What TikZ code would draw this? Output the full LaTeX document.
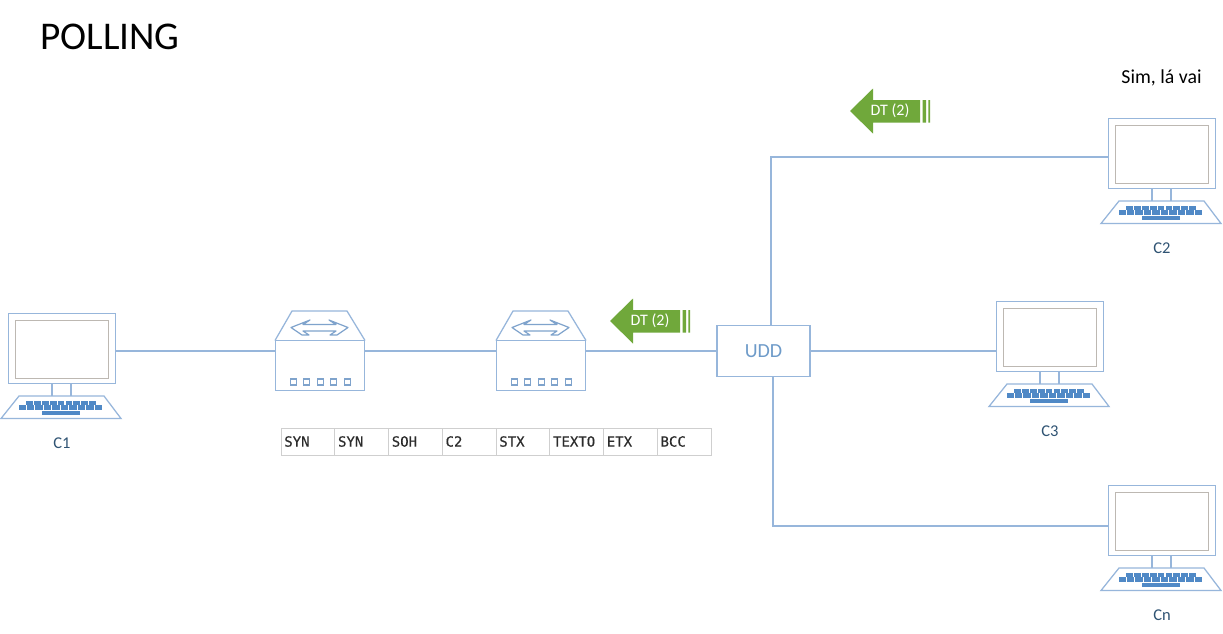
\documentclass[tikz,border=0pt]{standalone}
\usepackage{fontspec}
\setmainfont{Carlito}
\newfontfamily\monofam[FakeBold=0.4]{DejaVu Sans Mono}
\definecolor{netline}{HTML}{97B6DB}
\definecolor{keyblue}{HTML}{5089C6}
\definecolor{screenline}{HTML}{BDB8B2}
\definecolor{labelblue}{HTML}{2F5373}
\definecolor{uddblue}{HTML}{6E9BC9}
\definecolor{arrowgreen}{HTML}{70A83B}
\definecolor{cellline}{HTML}{CFCFCF}
\definecolor{celltext}{HTML}{2B2B2B}
\definecolor{swaparrow}{HTML}{7FA3CC}
\tikzset{
  wire/.style={draw=netline,line width=1.25pt},
  monitorbox/.style={draw=netline,line width=1.25pt,fill=white,minimum width=107pt,minimum height=70pt,inner sep=0pt},
  screenbox/.style={draw=screenline,line width=1.1pt,fill=white,minimum width=93pt,minimum height=58pt,inner sep=0pt},
  routerbody/.style={draw=netline,line width=1.25pt,fill=white,minimum width=89.5pt,minimum height=49.5pt,inner sep=0pt},
  pclabel/.style={text=labelblue,font=\fontsize{16.5}{18}\selectfont,inner sep=0pt},
  dtlabel/.style={text=white,font=\fontsize{16}{18}\selectfont,inner sep=0pt},
  cellbox/.style={draw=cellline,line width=0.8pt,minimum width=53.75pt,minimum height=27pt,inner sep=0pt,text=celltext,
     font=\monofam\fontsize{14}{16}\selectfont,text width=47pt,align=left},
}
\newcommand{\pcicon}[5]{% name, dx, dy, label name, label
  \begin{scope}[shift={(#2,#3)}]
    \node[monitorbox] (#1) at (62,348.5) {};
    \node[screenbox] (#1s) at (62,349.5) {};
    \draw[wire] (52,384) -- (52,396) (71,384) -- (71,396);
    \draw[wire] (19,396) -- (104,396) -- (121,418.5) -- (1,418.5) -- cycle;
    \foreach \i in {0,...,8} {\fill[keyblue] (26+\i*7.9,400.6) rectangle +(6.8,4);}
    \foreach \i in {0,...,9} {\fill[keyblue] (18.5+\i*8.45,405.4) rectangle +(7.4,4.2);}
    \fill[keyblue] (42,411.2) rectangle (80,415);
    \node[pclabel] (#4) at (62,443.2) {#5};
  \end{scope}
}
\newcommand{\routericon}[2]{% name, dx
  \begin{scope}[shift={(#2,0)}]
    \node[routerbody] (#1) at (320,365.5) {};
    \draw[wire] (275,340.5) -- (292,311) -- (347,311) -- (365,340.5);
    \draw[draw=swaparrow,line width=1.2pt,line join=round] (291,327.5) -- (310,320) -- (303,324.5) -- (336,324.5) -- (329,320) -- (348,327.5)
       -- (337,335) -- (330,335) -- (336,331) -- (303,331) -- (309,335) -- (302,335) -- cycle;
    \foreach \i in {0,...,4} {\draw[draw=swaparrow,line width=1.1pt] (290.5+\i*13.4,379) rectangle +(6,6);}
  \end{scope}
}
\newcommand{\dtarrow}[3]{% name, dx, dy
  \begin{scope}[shift={(#2,#3)}]
    \fill[arrowgreen] (610,321) -- (633,298.5) -- (633,310) -- (680,310) -- (680,332.5) -- (633,332.5) -- (633,343.5) -- cycle;
    \fill[arrowgreen] (682.5,310) rectangle (686,332.5) (688.3,310) rectangle (690,332.5);
    \node[dtlabel] (#1) at (650,321) {DT (2)};
  \end{scope}
}
\begin{document}
\begin{tikzpicture}[x=1pt,y=-1pt]
\useasboundingbox (0,0) rectangle (1223,633);
\fill[white] (0,0) rectangle (1223,633);
\coordinate (bus) at (0,351);
\coordinate (upx) at (771,157);
\coordinate (downx) at (773,526);

\node[inner sep=0pt,anchor=base west,font=\fontsize{39.3}{42}\selectfont] (title) at (40,49.5) {POLLING};
\node[inner sep=0pt,font=\fontsize{19.8}{22}\selectfont] (sim) at (1161.5,78) {Sim, lá vai};

\pcicon{pca}{0}{0}{la}{C1}
\pcicon{pcb}{1100}{-195}{lb}{C2}
\pcicon{pcc}{988}{-12}{lc}{C3}
\pcicon{pcn}{1100}{172}{ln}{Cn}

\routericon{ra}{0}
\routericon{rb}{221}

\node[draw=netline,line width=1.25pt,minimum width=93pt,minimum height=51.5pt,inner sep=0pt,text=uddblue,font=\fontsize{20}{22}\selectfont] (udd) at (763.5,351) {UDD};

\draw[wire] (pca.east |- bus) -- (ra.west |- bus);
\draw[wire] (ra.east |- bus) -- (rb.west |- bus);
\draw[wire] (rb.east |- bus) -- (udd.west);
\draw[wire] (udd.east) -- (pcc.west |- bus);
\draw[wire] (udd.north -| upx) -- (upx) -- (pcb.west |- upx);
\draw[wire] (udd.south -| downx) -- (downx) -- (pcn.west |- downx);

\dtarrow{dta}{0}{0}
\dtarrow{dtb}{240}{-210}

\foreach \nm/\txt [count=\k from 0] in {ca/SYN,cb/SYN,cc/SOH,cd/C2,ce/STX,cf/TEXTO,cg/ETX,ch/BCC}
  \node[cellbox] (\nm) at (307.8+\k*53.75,441.5) {\txt};
\end{tikzpicture}
\end{document}
